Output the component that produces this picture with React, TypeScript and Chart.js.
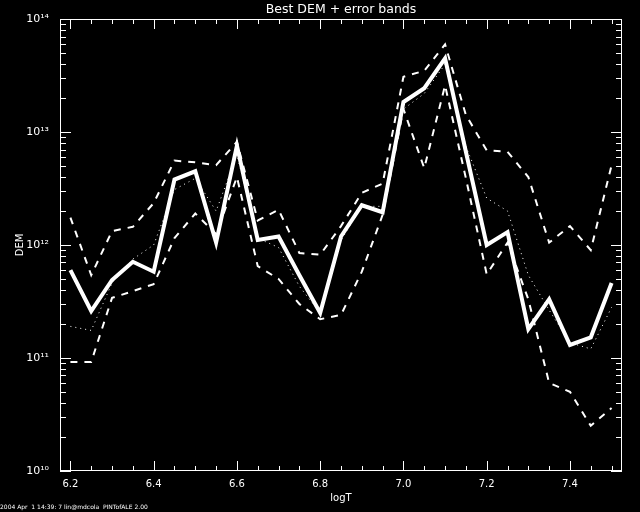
import React, { useEffect, useRef } from 'react';
import { Chart, registerables } from 'chart.js';

Chart.register(...registerables);

// ---- data ----
const logT = [
  6.2, 6.25, 6.3, 6.35, 6.4, 6.45, 6.5, 6.55, 6.6, 6.65, 6.7, 6.75, 6.8, 6.85,
  6.9, 6.95, 7.0, 7.05, 7.1, 7.15, 7.2, 7.25, 7.3, 7.35, 7.4, 7.45, 7.5,
];
const bestDEM = [
  6.0e11, 2.6e11, 4.9e11, 7.1e11, 5.8e11, 3.8e12, 4.5e12, 1.05e12, 7.6e12,
  1.11e12, 1.19e12, 5.4e11, 2.5e11, 1.19e12, 2.25e12, 1.95e12, 1.85e13,
  2.45e13, 4.5e13, 6.7e12, 1.0e12, 1.3e12, 1.8e11, 3.3e11, 1.3e11, 1.52e11,
  4.6e11,
];
const upperDEM = [
  1.75e12, 5.4e11, 1.33e12, 1.45e12, 2.35e12, 5.6e12, 5.4e12, 5.1e12, 8.2e12,
  1.65e12, 2.05e12, 8.5e11, 8.2e11, 1.47e12, 2.9e12, 3.5e12, 3.1e13, 3.5e13,
  6.0e13, 1.42e13, 6.9e12, 6.7e12, 4.0e12, 1.05e12, 1.47e12, 9.0e11, 5.1e12,
];
const lowerDEM = [
  9.2e10, 9.2e10, 3.4e11, 3.9e11, 4.5e11, 1.15e12, 1.9e12, 1.25e12, 4.0e12,
  6.5e11, 5.0e11, 3.0e11, 2.2e11, 2.4e11, 5.8e11, 1.85e12, 1.6e13, 4.8e12,
  2.6e13, 3.9e12, 5.5e11, 1.05e12, 3.3e11, 6.0e10, 5.0e10, 2.5e10, 3.6e10,
];
const dottedDEM = [
  1.9e11, 1.75e11, 4.6e11, 7.5e11, 1.0e12, 3.1e12, 3.9e12, 2.0e12, 6.3e12,
  1.15e12, 9.5e11, 4.3e11, 2.5e11, 1.1e12, 2.2e12, 2.2e12, 1.6e13, 2.2e13,
  4.0e13, 7.5e12, 2.6e12, 2.0e12, 5.4e11, 2.65e11, 1.36e11, 1.2e11, 2.8e11,
];

// axis ranges and ticks
const xMin = 6.175;
const xMax = 7.525;
const yMin = 1e10;
const yMax = 1e14;
const xMinorTicks = logT; // minor ticks every 0.05
const xMajorTicks = [6.2, 6.4, 6.6, 6.8, 7.0, 7.2, 7.4];
const yDecades = [10, 11, 12, 13, 14];
const yMinorMultipliers = [2, 3, 4, 5, 6, 7, 8, 9];

const titleText = 'Best DEM + error bands';
const xTitle = 'logT';
const yTitle = 'DEM';
const footerText = '2004 Apr  1 14:39: 7 lin@mdcola  PINTofALE 2.00';

const FONT = "'DejaVu Sans', sans-serif";

const SUP: Record<string, string> = {
  '0': '\u2070', '1': '\u00B9', '2': '\u00B2', '3': '\u00B3', '4': '\u2074',
  '5': '\u2075', '6': '\u2076', '7': '\u2077', '8': '\u2078', '9': '\u2079', '-': '\u207B',
};

function toSeries(values: number[]) {
  return logT.map((x, i) => ({ x, y: values[i] }));
}

const isMajorX = (v: number) => xMajorTicks.some((m) => Math.abs(m - v) < 1e-6);

const framePlugin = {
  id: 'idlFrame',
  beforeDraw(chart: any) {
    const { ctx, width, height } = chart;
    ctx.save();
    ctx.fillStyle = '#000';
    ctx.fillRect(0, 0, width, height);
    ctx.restore();
  },
  afterDraw(chart: any) {
    const { ctx, chartArea: a } = chart;
    const xs = chart.scales.x;
    const ys = chart.scales.y;
    const L = Math.round(a.left);
    const R = Math.round(a.right) - 1;
    const T = Math.round(a.top);
    const B = Math.round(a.bottom) - 1;
    ctx.save();
    ctx.fillStyle = '#ffffff';
    // x ticks, inward on bottom and top
    for (const v of xMinorTicks) {
      const px = Math.round(xs.getPixelForValue(v));
      const len = isMajorX(v) ? 10 : 5;
      ctx.fillRect(px, B - len + 1, 1, len);
      ctx.fillRect(px, T, 1, len);
    }
    // y ticks (log decades + minors), inward on left and right
    for (const d of yDecades) {
      const vals: { v: number; len: number }[] = [{ v: Math.pow(10, d), len: 11 }];
      if (d < yDecades[yDecades.length - 1]) {
        for (const m of yMinorMultipliers) vals.push({ v: m * Math.pow(10, d), len: 6 });
      }
      for (const it of vals) {
        const py = Math.round(ys.getPixelForValue(it.v));
        ctx.fillRect(L, py, it.len, 1);
        ctx.fillRect(R - it.len + 1, py, it.len, 1);
      }
    }
    // frame
    ctx.fillRect(L, T, R - L + 1, 1);
    ctx.fillRect(L, B, R - L + 1, 1);
    ctx.fillRect(L, T, 1, B - T + 1);
    ctx.fillRect(R, T, 1, B - T + 1);
    ctx.restore();
  },
};

export default function App() {
  const canvasRef = useRef<HTMLCanvasElement | null>(null);

  useEffect(() => {
    if (!canvasRef.current) return;
    const chart = new Chart(canvasRef.current, {
      type: 'line',
      data: {
        datasets: [
          { label: 'upper', data: toSeries(upperDEM), borderColor: '#fff', borderWidth: 2, borderDash: [7, 7], pointRadius: 0, tension: 0, fill: false },
          { label: 'lower', data: toSeries(lowerDEM), borderColor: '#fff', borderWidth: 2, borderDash: [7, 7], pointRadius: 0, tension: 0, fill: false },
          { label: 'dotted', data: toSeries(dottedDEM), borderColor: '#fff', borderWidth: 1, borderDash: [1, 4], pointRadius: 0, tension: 0, fill: false },
          { label: 'best', data: toSeries(bestDEM), borderColor: '#fff', borderWidth: 4, borderJoinStyle: 'miter', pointRadius: 0, tension: 0, fill: false },
        ],
      },
      options: {
        animation: false,
        responsive: false,
        maintainAspectRatio: false,
        layout: { padding: { left: 0, right: 18, top: 0, bottom: 0 } },
        plugins: {
          legend: { display: false },
          tooltip: { enabled: false },
          title: {
            display: true,
            text: titleText,
            color: '#fff',
            fullSize: false,
            font: { family: FONT, size: 12.5, weight: 'normal' },
            padding: { top: 2.5, bottom: 1.8 },
          },
          subtitle: {
            display: true,
            text: footerText,
            position: 'bottom',
            align: 'start',
            color: '#fff',
            font: { family: FONT, size: 6, weight: 'normal' },
            padding: { top: 1, bottom: 1 },
          },
        },
        scales: {
          x: {
            type: 'linear',
            min: xMin,
            max: xMax,
            grid: { display: false },
            border: { display: false },
            afterBuildTicks: (s: any) => {
              s.ticks = xMajorTicks.map((v) => ({ value: v }));
            },
            afterFit: (s: any) => {
              s.height = 32.1;
            },
            ticks: {
              autoSkip: false,
              maxRotation: 0,
              color: '#fff',
              padding: 0,
              font: { family: FONT, size: 10 },
              callback: (v: any) => Number(v).toFixed(1),
            },
            title: {
              display: true,
              text: xTitle,
              color: '#fff',
              font: { family: FONT, size: 10, lineHeight: 0.8 },
              padding: { top: 0, bottom: 0 },
            },
          },
          y: {
            type: 'logarithmic',
            min: yMin,
            max: yMax,
            grid: { display: false },
            border: { display: false },
            afterBuildTicks: (s: any) => {
              s.ticks = yDecades.map((d) => ({ value: Math.pow(10, d) }));
            },
            afterFit: (s: any) => {
              s.width = 60;
            },
            ticks: {
              autoSkip: false,
              color: '#fff',
              padding: 3,
              font: { family: FONT, size: 11 },
              callback: (v: any) => {
                const e = Math.round(Math.log10(Number(v)));
                return '10' + String(e).split('').map((c) => SUP[c] || c).join('');
              },
            },
            title: {
              display: true,
              text: yTitle,
              color: '#fff',
              font: { family: FONT, size: 10 },
              padding: { top: 14.6, bottom: 0 },
            },
          },
        },
      },
      plugins: [framePlugin],
    });
    return () => chart.destroy();
  }, []);

  return (
    <div style={{ position: 'fixed', left: 0, top: 0, width: 640, height: 512, background: '#000' }}>
      <canvas ref={canvasRef} width={640} height={512} style={{ width: 640, height: 512, display: 'block' }} />
    </div>
  );
}
